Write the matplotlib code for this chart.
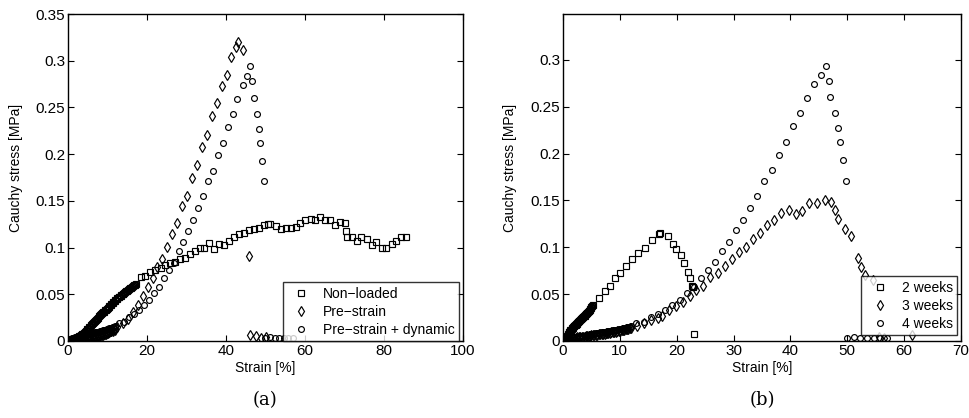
import matplotlib
matplotlib.use("Agg")
import matplotlib.pyplot as plt

plt.rcParams['font.family'] = ['Liberation Sans', 'DejaVu Sans']

# ---------------- Panel (a) data ----------------
nonloaded_strain = [0, 0.3, 0.5, 0.8, 1, 1.3, 1.5, 1.8, 2, 2.3, 2.5, 2.8, 3, 3.3, 3.5, 3.8, 4, 4.3,
                    4.5, 4.8, 5, 5.3, 5.5, 5.8, 6, 6.3, 6.5, 6.8, 7, 7.3, 7.5, 7.8, 8, 8.3, 8.5, 8.8,
                    9, 9.3, 9.5, 9.8, 10, 10.3, 10.5, 10.8, 11, 11.3, 11.5, 11.8, 12, 12.3, 12.5, 12.8,
                    13, 13.3, 13.5, 13.8, 14, 14.3, 14.5, 14.8, 15, 15.3, 15.5, 15.8, 16, 16.3, 16.5,
                    16.8, 17, 17.3,
                    18.5, 19.5, 20.8, 22.0, 23.5, 24.6, 25.8, 27.0, 28.3, 29.6, 30.8, 32.1, 33.3, 34.5,
                    35.7, 37.0, 38.2, 39.5, 40.8, 42.0, 43.3, 44.6, 45.8, 47.1, 48.3, 49.5, 50.7, 51.2,
                    52.6, 53.8, 55.1, 56.4, 57.6, 58.8, 60.1, 61.4, 62.6, 63.9, 65.1, 66.4, 67.6, 68.9,
                    70.1, 70.5, 70.6, 71.9, 73.2, 74.3, 75.6, 76.9, 78.1, 79.4, 80.6, 81.9, 83.1, 84.3, 85.6]
nonloaded_stress = [0, 0.0003, 0.0005, 0.0009, 0.0012, 0.0016, 0.002, 0.0025, 0.003, 0.0037, 0.0042,
                    0.005, 0.0055, 0.0064, 0.007, 0.008, 0.0088, 0.0101, 0.011, 0.0124, 0.0133, 0.0146,
                    0.0155, 0.0169, 0.0178, 0.0191, 0.020, 0.0215, 0.0225, 0.024, 0.025, 0.0264, 0.0273,
                    0.0286, 0.0295, 0.0307, 0.0315, 0.0327, 0.0335, 0.0347, 0.0355, 0.0367, 0.0375,
                    0.0387, 0.0395, 0.0409, 0.0418, 0.0431, 0.044, 0.0451, 0.0458, 0.0468, 0.0475,
                    0.0484, 0.049, 0.0499, 0.0505, 0.0514, 0.052, 0.053, 0.0537, 0.0547, 0.0553, 0.0563,
                    0.057, 0.058, 0.0586, 0.0596, 0.0602, 0.061,
                    0.0686, 0.070, 0.074, 0.0757, 0.078, 0.081, 0.083, 0.085, 0.088, 0.089, 0.093, 0.096,
                    0.100, 0.100, 0.105, 0.099, 0.104, 0.103, 0.107, 0.111, 0.114, 0.116, 0.119, 0.120,
                    0.121, 0.124, 0.125, 0.125, 0.123, 0.120, 0.121, 0.121, 0.122, 0.126, 0.129, 0.131,
                    0.130, 0.133, 0.130, 0.129, 0.124, 0.127, 0.126, 0.118, 0.111, 0.111, 0.107, 0.111,
                    0.109, 0.103, 0.106, 0.100, 0.100, 0.104, 0.107, 0.111, 0.111]

prestrain_strain = [0, 0.3, 0.5, 0.8, 1, 1.3, 1.5, 1.8, 2, 2.3, 2.5, 2.8, 3, 3.3, 3.5, 3.8, 4, 4.3,
                    4.5, 4.8, 5, 5.3, 5.5, 5.8, 6, 6.3, 6.5, 6.8, 7, 7.3, 7.5, 7.8, 8, 8.3, 8.5, 8.8,
                    9, 9.3, 9.5, 9.8, 10, 10.3, 10.5, 10.8, 11, 11.3, 11.5, 11.8, 12, 12.4,
                    14.0, 15.1, 16.4, 17.6, 18.9, 20.2, 21.4, 22.6, 23.9, 25.1, 26.3, 27.7, 28.9, 30.1,
                    31.4, 32.7, 33.9, 35.1, 36.4, 37.6, 38.9, 40.2, 41.3, 42.6, 43.1, 44.4, 45.8,
                    46.1, 47.5, 48.8, 50.0]
prestrain_stress = [0, 0.0002, 0.0003, 0.0004, 0.0005, 0.0007, 0.0008, 0.0009, 0.001, 0.0011, 0.0012,
                    0.0014, 0.0015, 0.0017, 0.0018, 0.002, 0.0022, 0.0024, 0.0026, 0.0028, 0.003,
                    0.0032, 0.0034, 0.0036, 0.0038, 0.0041, 0.0043, 0.0046, 0.0048, 0.0051, 0.0053,
                    0.0056, 0.0059, 0.0062, 0.0065, 0.0069, 0.0072, 0.0076, 0.008, 0.0084, 0.0088,
                    0.0093, 0.0097, 0.0102, 0.0107, 0.0112, 0.0117, 0.0123, 0.013, 0.0145,
                    0.019, 0.024, 0.031, 0.039, 0.048, 0.058, 0.067, 0.079, 0.088, 0.101, 0.115, 0.126,
                    0.144, 0.155, 0.175, 0.188, 0.208, 0.221, 0.241, 0.255, 0.273, 0.285, 0.304, 0.315,
                    0.320, 0.312, 0.091,
                    0.0064, 0.0053, 0.0036, 0.0046]

# Pre-strain + dynamic (a) == 4 weeks (b)
dynamic_strain = [0, 0.3, 0.5, 0.8, 1, 1.3, 1.5, 1.8, 2, 2.3, 2.5, 2.8, 3, 3.3, 3.5, 3.8, 4, 4.3,
                  4.5, 4.8, 5, 5.3, 5.5, 5.8, 6, 6.3, 6.5, 6.8, 7, 7.3, 7.5, 7.8, 8, 8.3, 8.5, 8.8,
                  9, 9.3, 9.5, 9.8, 10, 10.3, 10.5, 10.8, 11, 11.3, 11.5, 11.8, 12,
                  12.9, 14.2, 15.5, 16.7, 17.9, 19.2, 20.5, 21.8, 23.0, 24.3, 25.5, 26.8, 28.0, 29.2,
                  30.5, 31.7, 32.9, 34.2, 35.4, 36.7, 38.0, 39.2, 40.5, 41.7, 42.9, 44.2, 45.4, 46.2,
                  46.7, 47.0, 47.9, 48.4, 48.7, 49.2, 49.7,
                  49.9, 51.1, 52.3, 53.5, 54.7, 55.8, 57.0]
dynamic_stress = [0, 0.0012, 0.002, 0.0026, 0.003, 0.0033, 0.0035, 0.0038, 0.004, 0.0043, 0.0045,
                  0.0048, 0.005, 0.0053, 0.0055, 0.0058, 0.006, 0.0065, 0.0068, 0.007, 0.0072, 0.0075,
                  0.0078, 0.0081, 0.0083, 0.0086, 0.0088, 0.0091, 0.0093, 0.0096, 0.0098, 0.0101,
                  0.0104, 0.0107, 0.011, 0.0113, 0.0116, 0.0119, 0.0122, 0.0125, 0.0128, 0.0132,
                  0.0135, 0.0139, 0.0142, 0.0146, 0.015, 0.0154, 0.0158,
                  0.019, 0.020, 0.026, 0.029, 0.033, 0.038, 0.044, 0.051, 0.058, 0.067, 0.076, 0.084,
                  0.096, 0.106, 0.118, 0.129, 0.142, 0.155, 0.171, 0.182, 0.199, 0.212, 0.229, 0.243,
                  0.259, 0.274, 0.284, 0.294,
                  0.278, 0.260, 0.243, 0.227, 0.212, 0.193, 0.171,
                  0.003, 0.004, 0.003, 0.003, 0.003, 0.003, 0.003]

# ---------------- Panel (b) data ----------------
w2_strain = [0, 0.1, 0.2, 0.3, 0.4, 0.5, 0.6, 0.7, 0.8, 0.9, 1.0, 1.1, 1.2, 1.3, 1.4, 1.5, 1.6, 1.7,
             1.8, 1.9, 2.0, 2.1, 2.2, 2.3, 2.4, 2.5, 2.6, 2.7, 2.8, 2.9, 3.0, 3.1, 3.2, 3.3, 3.4, 3.5,
             3.6, 3.7, 3.8, 3.9, 4.0, 4.1, 4.2, 4.3, 4.4, 4.5, 4.6, 4.7, 4.8, 4.9, 5.0, 5.1, 5.2,
             6.3, 7.3, 8.3, 9.2, 10.1, 11.1, 12.1, 13.2, 14.4, 15.6, 16.9, 17.1,
             18.4, 19.3, 19.8, 20.8, 21.2, 21.9, 22.3, 22.7, 22.9, 23.1]
w2_stress = [0, 0.0005, 0.001, 0.0015, 0.002, 0.003, 0.004, 0.005, 0.006, 0.0076, 0.0092, 0.01,
             0.0108, 0.0115, 0.0122, 0.0129, 0.0136, 0.0143, 0.015, 0.0157, 0.0163, 0.0169, 0.0175,
             0.018, 0.0186, 0.0192, 0.0198, 0.0204, 0.021, 0.0217, 0.0225, 0.0231, 0.0237, 0.0243,
             0.0249, 0.0254, 0.026, 0.0266, 0.0272, 0.0278, 0.0285, 0.0291, 0.0297, 0.0303, 0.031,
             0.0317, 0.0325, 0.0333, 0.0342, 0.0351, 0.036, 0.037, 0.038,
             0.046, 0.053, 0.059, 0.067, 0.073, 0.080, 0.087, 0.094, 0.099, 0.108, 0.114, 0.115,
             0.112, 0.104, 0.098, 0.092, 0.083, 0.074, 0.067, 0.059, 0.058, 0.007]

w3_strain = [0, 0.3, 0.5, 0.8, 1, 1.3, 1.5, 1.8, 2, 2.3, 2.5, 2.8, 3, 3.3, 3.5, 3.8, 4, 4.3,
             4.5, 4.8, 5, 5.3, 5.5, 5.8, 6, 6.3, 6.5, 6.8, 7, 7.3, 7.5, 7.8, 8, 8.3, 8.5, 8.8,
             9, 9.3, 9.5, 9.8, 10, 10.3, 10.5, 10.8, 11, 11.3, 11.5, 11.8, 12,
             13.0, 14.2, 15.5, 16.7, 17.4, 18.6, 19.9, 21.1, 22.3, 23.4, 24.7, 25.9, 27.2, 28.5,
             29.7, 31.0, 32.2, 33.4, 34.7, 35.9, 37.1, 38.4, 39.7, 40.9, 42.1, 43.3, 44.6, 46.0,
             47.1, 47.8, 48.4, 49.6, 50.6, 51.8, 52.4, 53.1, 54.5, 55.5, 56.5, 61.3]
w3_stress = [0, 0.0006, 0.001, 0.0016, 0.002, 0.0025, 0.0028, 0.0031, 0.0033, 0.0036, 0.0038,
             0.004, 0.0042, 0.0044, 0.0046, 0.0048, 0.005, 0.0053, 0.0055, 0.0058, 0.006, 0.0062,
             0.0064, 0.0066, 0.0068, 0.007, 0.0072, 0.0075, 0.0077, 0.008, 0.0082, 0.0085, 0.0087,
             0.009, 0.0092, 0.0095, 0.0098, 0.0101, 0.0104, 0.0107, 0.011, 0.0114, 0.0117, 0.0121,
             0.0124, 0.0128, 0.0132, 0.0136, 0.014,
             0.016, 0.019, 0.022, 0.025, 0.027, 0.033, 0.037, 0.042, 0.048, 0.054, 0.059, 0.068,
             0.073, 0.080, 0.087, 0.095, 0.100, 0.109, 0.115, 0.124, 0.129, 0.137, 0.140, 0.136,
             0.139, 0.147, 0.147, 0.151,
             0.148, 0.140, 0.130, 0.120, 0.112, 0.089, 0.079, 0.070, 0.065, 0.004, 0.003, 0.006]

w4_strain = dynamic_strain
w4_stress = dynamic_stress

# ---------------- Figure ----------------
W, H = 969, 418
fig = plt.figure(figsize=(W / 100, H / 100), dpi=100)

def px_axes(x0, x1, ytop, ybot):
    return fig.add_axes([x0 / W, (H - ybot) / H, (x1 - x0) / W, (ybot - ytop) / H])

ax1 = px_axes(68, 463, 14, 341)
ax2 = px_axes(563, 961, 14, 341)

mk = dict(linestyle='none', markerfacecolor='none', markeredgecolor='black', markeredgewidth=0.85)

ax1.plot(nonloaded_strain, nonloaded_stress, marker='s', markersize=3.8, label='Non\u2212loaded', **mk)
ax1.plot(prestrain_strain, prestrain_stress, marker='d', markersize=5.0, label='Pre\u2212strain', **mk)
ax1.plot(dynamic_strain, dynamic_stress, marker='o', markersize=4.2, label='Pre\u2212strain + dynamic', **mk)

ax2.plot(w2_strain, w2_stress, marker='s', markersize=3.8, label='2 weeks', **mk)
ax2.plot(w3_strain, w3_stress, marker='d', markersize=5.0, label='3 weeks', **mk)
ax2.plot(w4_strain, w4_stress, marker='o', markersize=4.2, label='4 weeks', **mk)

ax1.set_xlim(0, 100)
ax1.set_ylim(0, 0.35)
ax1.set_xticks([0, 20, 40, 60, 80, 100])
ax1.set_yticks([0, 0.05, 0.1, 0.15, 0.2, 0.25, 0.3, 0.35])
ax1.set_yticklabels(['0', '0.05', '0.1', '0.15', '0.2', '0.25', '0.3', '0.35'])

ax2.set_xlim(0, 70)
ax2.set_ylim(0, 0.349)
ax2.set_xticks([0, 10, 20, 30, 40, 50, 60, 70])
ax2.set_yticks([0, 0.05, 0.1, 0.15, 0.2, 0.25, 0.3])
ax2.set_yticklabels(['0', '0.05', '0.1', '0.15', '0.2', '0.25', '0.3'])

for ax in (ax1, ax2):
    ax.tick_params(direction='in', top=True, right=True, length=4, width=0.8,
                   labelsize=11, pad=2, colors='black')
    for s in ax.spines.values():
        s.set_linewidth(1.0)
        s.set_color('black')
    ax.set_xlabel('Strain [%]', fontsize=10, labelpad=2)
    ax.set_ylabel('Cauchy stress [MPa]', fontsize=10)
    ax.yaxis.set_label_coords(-0.115, 0.53)

leg_kw = dict(loc='lower right', fontsize=10, frameon=True, fancybox=False, handlelength=2.0,
              handletextpad=0.6, labelspacing=0.3, borderpad=0.3, borderaxespad=0)
l1 = ax1.legend(bbox_to_anchor=(0.99, 0.0), **leg_kw)
l2 = ax2.legend(bbox_to_anchor=(0.99, 0.018), **leg_kw)
for l in (l1, l2):
    l.get_frame().set_edgecolor('black')
    l.get_frame().set_linewidth(1.0)

fig.text(265 / W, 1 - 400 / H, '(a)', ha='center', va='center', fontsize=13, family='DejaVu Serif')
fig.text(762 / W, 1 - 400 / H, '(b)', ha='center', va='center', fontsize=13, family='DejaVu Serif')

fig.savefig('out.png', dpi=100)
